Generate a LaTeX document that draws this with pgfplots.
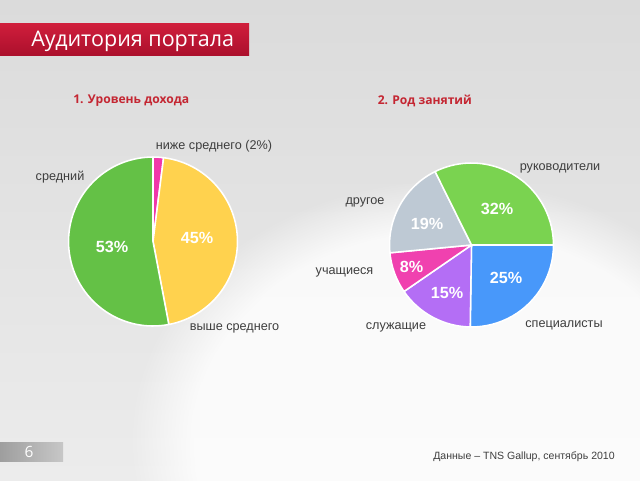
\documentclass[border=0pt]{standalone}
\usepackage{pgfplots}
\pgfplotsset{compat=1.18}
\usepackage{pgfplotstable}
\usetikzlibrary{fadings}
\usepackage{fontspec}
\setmainfont{Liberation Sans}
\newfontfamily\osans{Open Sans}

\definecolor{bgtop}{RGB}{219,219,219}
\definecolor{bgbot}{RGB}{236,236,236}
\definecolor{bartop}{RGB}{208,30,60}
\definecolor{barbot}{RGB}{172,16,44}
\definecolor{subred}{RGB}{196,38,50}
\definecolor{lab}{RGB}{62,62,62}
\definecolor{incgreen}{RGB}{100,193,70}
\definecolor{incyellow}{RGB}{255,210,78}
\definecolor{incpink}{RGB}{240,55,170}
\definecolor{occgreen}{RGB}{122,211,80}
\definecolor{occgray}{RGB}{190,201,212}
\definecolor{occpink}{RGB}{240,65,175}
\definecolor{occpurple}{RGB}{180,110,245}
\definecolor{occblue}{RGB}{72,152,250}

% 1. income level (clockwise from 90 deg)
\pgfplotstableread[col sep=comma]{
value,color
2,incpink
45,incyellow
53,incgreen
}\incometab
% 2. occupation (clockwise from 0 deg)
\pgfplotstableread[col sep=comma]{
value,color
25,occblue
15,occpurple
8,occpink
19,occgray
32,occgreen
}\occtab

% #1 table, #2 cx, #3 cy, #4 radius (px), #5 start angle
\newcommand\drawpie[5]{%
 \pgfplotsextra{%
  \xdef\pietotal{0}%
  \pgfplotstableforeachcolumnelement{value}\of#1\as\v{%
    \pgfmathsetmacro\tmp{\pietotal+\v}\xdef\pietotal{\tmp}}%
  \xdef\pieang{#5}%
  \pgfplotstableforeachcolumnelement{value}\of#1\as\v{%
    \pgfplotstablegetelem{\pgfplotstablerow}{color}\of#1%
    \let\slicecolor\pgfplotsretval
    \pgfmathsetmacro\endang{\pieang-\v/\pietotal*360}%
    \fill[fill=\slicecolor, draw=white, line width=1.1pt, line join=round]
      (axis cs:#2,#3) -- ++(\pieang:#4*0.025cm)
      arc[start angle=\pieang, end angle=\endang, radius=#4*0.025cm] -- cycle;
    \xdef\pieang{\endang}%
  }%
 }}

\begin{document}
\begin{tikzpicture}
\begin{axis}[at={(0,0)}, anchor=south west, scale only axis,
  width=16cm, height=12cm, xmin=0, xmax=640, ymin=0, ymax=480,
  y dir=reverse, hide axis, clip=false]
\pgfplotsextra{%
 \begin{scope}
  \clip (axis cs:0,0) rectangle (axis cs:640,480);
  \shade[top color=bgtop, bottom color=bgbot] (axis cs:0,0) rectangle (axis cs:640,480);
  \fill[white, opacity=0.8, path fading=circle with fuzzy edge 20 percent] (axis cs:450,440) ellipse [x radius=8cm, y radius=6.5cm];
  \shade[top color=bartop, bottom color=barbot] (axis cs:0,23) rectangle (axis cs:249,55);
  \shade[left color=black!38, right color=black!22] (axis cs:0,442) rectangle (axis cs:63,461);
 \end{scope}
}
\node[anchor=base west, text=white, font=\osans\fontsize{15.3}{18}\selectfont, inner sep=0] at (axis cs:31,46) {Аудитория портала};
\node[anchor=center, text=white, font=\osans\fontsize{11}{13}\selectfont, inner sep=0] at (axis cs:29,451.5) {6};
\node[anchor=base west, text=subred, font=\osans\bfseries\fontsize{8.6}{10}\selectfont, inner sep=0] at (axis cs:73,103) {1. Уровень дохода};
\node[anchor=base west, text=subred, font=\osans\bfseries\fontsize{8.6}{10}\selectfont, inner sep=0] at (axis cs:377.5,104) {2. Род занятий};

\drawpie{\incometab}{153}{241.5}{84.5}{90}
\drawpie{\occtab}{471.5}{245}{82}{0}

\begin{scope}[every node/.style={inner sep=0, text=lab, font=\fontsize{9}{11}\selectfont, anchor=base}]
\node at (axis cs:60,180) {средний};
\node at (axis cs:214,149) {ниже среднего (2\%)};
\node at (axis cs:234.5,330) {выше среднего};
\node at (axis cs:560,170) {руководители};
\node at (axis cs:365,204) {другое};
\node at (axis cs:344.5,274) {учащиеся};
\node at (axis cs:396,329) {служащие};
\node at (axis cs:564,327) {специалисты};
\end{scope}

\begin{scope}[every node/.style={inner sep=0, text=white, font=\bfseries\fontsize{11.5}{13}\selectfont, anchor=center}]
\node at (axis cs:112,247) {53\%};
\node at (axis cs:197,238) {45\%};
\node at (axis cs:497,209) {32\%};
\node at (axis cs:427,224) {19\%};
\node at (axis cs:411.5,267) {8\%};
\node at (axis cs:447,293) {15\%};
\node at (axis cs:506,278) {25\%};
\end{scope}

\node[anchor=base west, inner sep=0, text=lab, font=\fontsize{7.5}{9}\selectfont] at (axis cs:433,459.5) {Данные – TNS Gallup, сентябрь 2010};
\end{axis}
\pgfresetboundingbox
\path[use as bounding box] (0,0) rectangle (16cm,12cm);
\end{tikzpicture}
\end{document}
